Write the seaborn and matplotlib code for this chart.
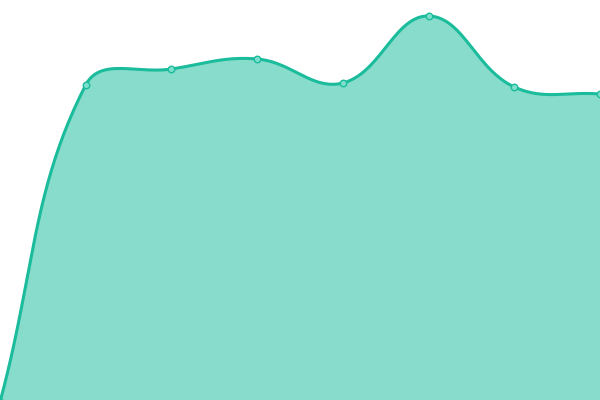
import numpy as np
import pandas as pd
import matplotlib
matplotlib.use("Agg")
import matplotlib.pyplot as plt
import seaborn as sns

# data
positions = [0, 1, 2, 3, 4, 5, 6, 7]
values = [-2, 315, 331, 341, 317, 384, 313, 306]

LINE = "#1abc9c"
W, H = 600, 400
XMAX, YMAX = 7, 400


def smooth(x, y, tension=0.4, steps=50):
    # bezier spline through the points (tension style), computed in pixel space
    kx, ky = W / XMAX, H / YMAX
    px = np.asarray(x, float) * kx
    py = np.asarray(y, float) * ky
    n = len(px)
    cp_prev, cp_next = [], []
    for i in range(n):
        a = (px[i - 1], py[i - 1]) if i > 0 else (px[i], py[i])
        c = (px[i], py[i])
        b = (px[i + 1], py[i + 1]) if i < n - 1 else (px[i], py[i])
        d01 = np.hypot(c[0] - a[0], c[1] - a[1])
        d12 = np.hypot(b[0] - c[0], b[1] - c[1])
        s01 = d01 / (d01 + d12)
        s12 = d12 / (d01 + d12)
        fa, fb = tension * s01, tension * s12
        cp_prev.append((c[0] - fa * (b[0] - a[0]), c[1] - fa * (b[1] - a[1])))
        cp_next.append((c[0] + fb * (b[0] - a[0]), c[1] + fb * (b[1] - a[1])))
    xs, ys = [], []
    t = np.linspace(0, 1, steps, endpoint=False)[:, None]
    for i in range(n - 1):
        p0 = np.array([px[i], py[i]])
        p1 = np.array(cp_next[i])
        p2 = np.array(cp_prev[i + 1])
        p3 = np.array([px[i + 1], py[i + 1]])
        seg = ((1 - t) ** 3) * p0 + 3 * ((1 - t) ** 2) * t * p1 \
            + 3 * (1 - t) * t ** 2 * p2 + t ** 3 * p3
        xs.append(seg[:, 0])
        ys.append(seg[:, 1])
    xs.append([px[-1]])
    ys.append([py[-1]])
    return np.concatenate(xs) / kx, np.concatenate(ys) / ky


sx, sy = smooth(positions, values)
curve = pd.DataFrame({"x": sx, "y": sy})
pts = pd.DataFrame({"x": positions, "y": values})

sns.set_style("white")
fig = plt.figure(figsize=(6, 4), dpi=100)
ax = fig.add_axes([0, 0, 1, 1])

ax.fill_between(curve["x"], curve["y"], 0, color=LINE, alpha=0.52, linewidth=0)
sns.lineplot(data=curve, x="x", y="y", ax=ax, color=LINE, linewidth=2.2, sort=False)
sns.scatterplot(data=pts, x="x", y="y", ax=ax, s=22, color="#7ddfcb",
                edgecolor=LINE, linewidth=1.0, zorder=5)

ax.set_xlim(0, XMAX)
ax.set_ylim(0, YMAX)
ax.set_axis_off()

fig.savefig("out.png", dpi=100)
